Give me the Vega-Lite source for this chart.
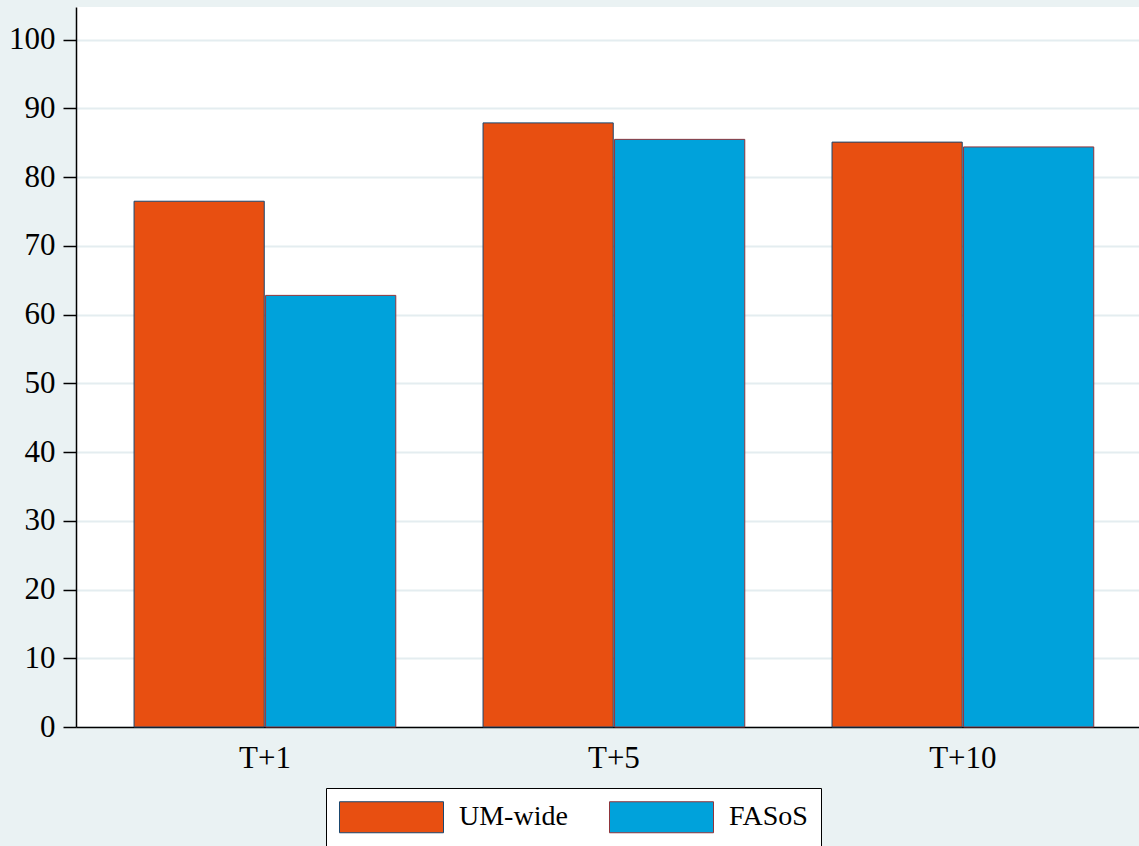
{
  "$schema": "https://vega.github.io/schema/vega-lite/v6.json",
  "width": 1063,
  "height": 720,
  "autosize": {"type": "none"},
  "padding": {"left": 76, "top": 7, "right": 0, "bottom": 119},
  "background": "#EAF2F3",
  "data": {
    "values": [
      {"horizon": "T+1", "series": "UM-wide", "value": 76.5},
      {"horizon": "T+1", "series": "FASoS", "value": 62.8},
      {"horizon": "T+5", "series": "UM-wide", "value": 87.9},
      {"horizon": "T+5", "series": "FASoS", "value": 85.5},
      {"horizon": "T+10", "series": "UM-wide", "value": 85.1},
      {"horizon": "T+10", "series": "FASoS", "value": 84.4}
    ]
  },
  "mark": {"type": "bar", "strokeWidth": 1},
  "encoding": {
    "x": {
      "field": "horizon",
      "type": "nominal",
      "sort": ["T+1", "T+5", "T+10"],
      "scale": {"paddingInner": 0.25, "paddingOuter": 0.148, "align": 0.562},
      "axis": {
        "title": null,
        "labelAngle": 0,
        "ticks": false,
        "tickSize": 0,
        "labelPadding": 16,
        "domainColor": "black",
        "domainWidth": 1.5,
        "grid": false,
        "labelFont": "Times New Roman, Liberation Serif, serif",
        "labelColor": "black",
        "labelFontSize": 31
      }
    },
    "xOffset": {
      "field": "series",
      "type": "nominal",
      "sort": ["UM-wide", "FASoS"],
      "scale": {"paddingInner": 0.01, "paddingOuter": 0}
    },
    "y": {
      "field": "value",
      "type": "quantitative",
      "scale": {"domain": [0, 104.76], "nice": false, "zero": true},
      "axis": {
        "title": null,
        "values": [0, 10, 20, 30, 40, 50, 60, 70, 80, 90, 100],
        "grid": true,
        "gridColor": "#E4EDF0",
        "gridWidth": 2,
        "domainColor": "black",
        "domainWidth": 1.5,
        "tickColor": "black",
        "tickSize": 13,
        "tickWidth": 1.5,
        "labelPadding": 8,
        "labelFont": "Times New Roman, Liberation Serif, serif",
        "labelColor": "black",
        "labelFontSize": 31
      }
    },
    "fill": {
      "field": "series",
      "type": "nominal",
      "sort": ["UM-wide", "FASoS"],
      "scale": {"domain": ["UM-wide", "FASoS"], "range": ["#E84F11", "#00A2DB"]},
      "legend": {"title": null}
    },
    "stroke": {
      "field": "series",
      "type": "nominal",
      "sort": ["UM-wide", "FASoS"],
      "scale": {"domain": ["UM-wide", "FASoS"], "range": ["#1A476F", "#90353B"]},
      "legend": {"title": null}
    }
  },
  "config": {
    "font": "Times New Roman, Liberation Serif, serif",
    "view": {"fill": "white", "stroke": null},
    "axis": {"labelColor": "black"},
    "legend": {
      "orient": "none",
      "legendX": 250,
      "legendY": 781,
      "direction": "horizontal",
      "fillColor": "white",
      "strokeColor": "black",
      "padding": 13,
      "symbolType": "M-1,-1L5.71,-1L5.71,1L-1,1Z",
      "symbolSize": 961,
      "symbolStrokeWidth": 1,
      "symbolOpacity": 1,
      "labelFont": "Times New Roman, Liberation Serif, serif",
      "labelFontSize": 28,
      "labelColor": "black",
      "labelOffset": 88,
      "columnPadding": 39
    }
  }
}
